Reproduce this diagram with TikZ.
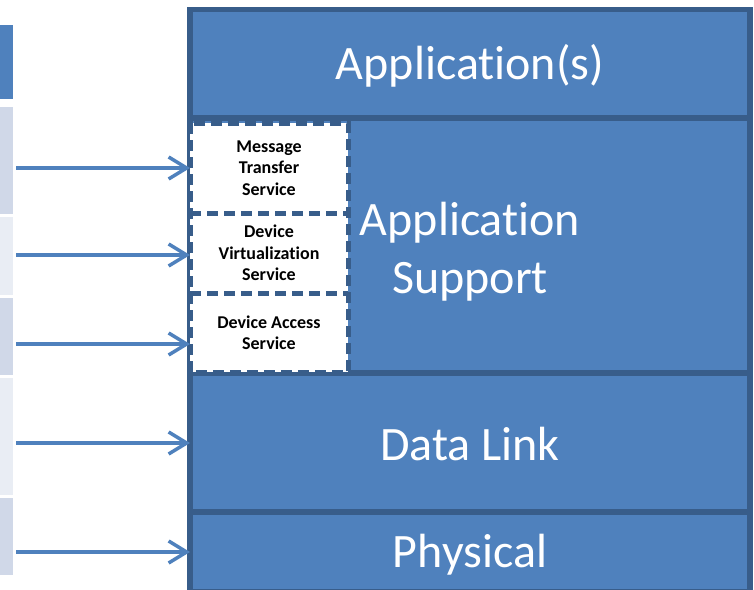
\documentclass[tikz,border=0pt]{standalone}
\usepackage{fontspec}
\setmainfont[Ligatures=NoCommon]{Carlito}
\usetikzlibrary{arrows.meta}
\definecolor{blueFill}{HTML}{4F81BD}
\definecolor{blueLine}{HTML}{385D8A}
\definecolor{cellA}{HTML}{D0D8E8}
\definecolor{cellB}{HTML}{E9EDF4}
\begin{document}
\begin{tikzpicture}[x=1pt,y=-1pt,
 layer/.style={fill=blueFill, outer sep=0pt, inner sep=0pt, minimum width=560pt},
 layertext/.style={text=white, font=\fontsize{48}{58}\selectfont, anchor=base, inner sep=0pt},
 layerborder/.style={draw=blueLine, line width=5.5pt},
 svc/.style={fill=white, outer sep=0pt,
   font=\fontsize{18}{21.5}\selectfont\bfseries, align=center, inner sep=0pt,
   minimum width=158pt},
 svcborder/.style={draw=blueLine, line width=5pt, dash pattern=on 11pt off 6pt},
 cell/.style={inner sep=0pt, minimum width=13pt, anchor=north west},
 link/.style={draw=blueFill, line width=3.5pt, -{Straight Barb[length=18pt,width=22pt]}}]
\clip (0,0) rectangle (754,589);
\fill[white] (0,0) rectangle (754,589);
% left table strip
\node[cell, fill=blueFill, minimum height=74pt] (c0) at (0,25) {};
\node[cell, fill=cellA, minimum height=107pt] (c1) at (0,107) {};
\node[cell, fill=cellB, minimum height=78pt] (c2) at (0,217) {};
\node[cell, fill=cellA, minimum height=77pt] (c3) at (0,298) {};
\node[cell, fill=cellB, minimum height=117pt] (c4) at (0,378) {};
\node[cell, fill=cellA, minimum height=77pt] (c5) at (0,498) {};
% layers
\node[layer, minimum height=108pt] (app) at (470,63.5) {};
\node[layer, minimum height=255pt] (support) at (470,245.5) {};
\node[layer, minimum height=139pt] (dlink) at (470,442.5) {};
\node[layer, minimum height=80pt] (phys) at (470,552) {};
\foreach \n in {app,support,dlink,phys}
  \draw[layerborder] (\n.north west) rectangle (\n.south east);
\node[layertext] (appT) at (470,79) {Application(s)};
\node[layertext] (supT) at (470,235) {\parbox[t]{300pt}{\centering Application\\Support}};
\node[layertext] (dlinkT) at (470,460) {Data Link};
\node[layertext] (physT) at (470,567) {Physical};
% services
\node[svc, minimum height=90pt] (msg) at (269,168) {Message\\Transfer\\Service};
\node[svc, minimum height=80pt] (virt) at (269,253) {Device\\Virtualization\\Service};
\node[svc, minimum height=79pt] (access) at (269,332.5) {Device Access\\Service};
\draw[svcborder] (msg.north west) rectangle (access.south east);
\draw[svcborder] (msg.south west) -- (msg.south east);
\draw[svcborder] (virt.south west) -- (virt.south east);
% arrows
\coordinate (s1) at (16,168);
\coordinate (s2) at (16,255);
\coordinate (s3) at (16,344);
\coordinate (s4) at (16,443);
\coordinate (s5) at (16,552);
\draw[link] (s1) -- (msg.west |- s1);
\draw[link] (s2) -- (virt.west |- s2);
\draw[link] (s3) -- (access.west |- s3);
\draw[link] (s4) -- (dlink.west |- s4);
\draw[link] (s5) -- (phys.west |- s5);
\end{tikzpicture}
\end{document}
